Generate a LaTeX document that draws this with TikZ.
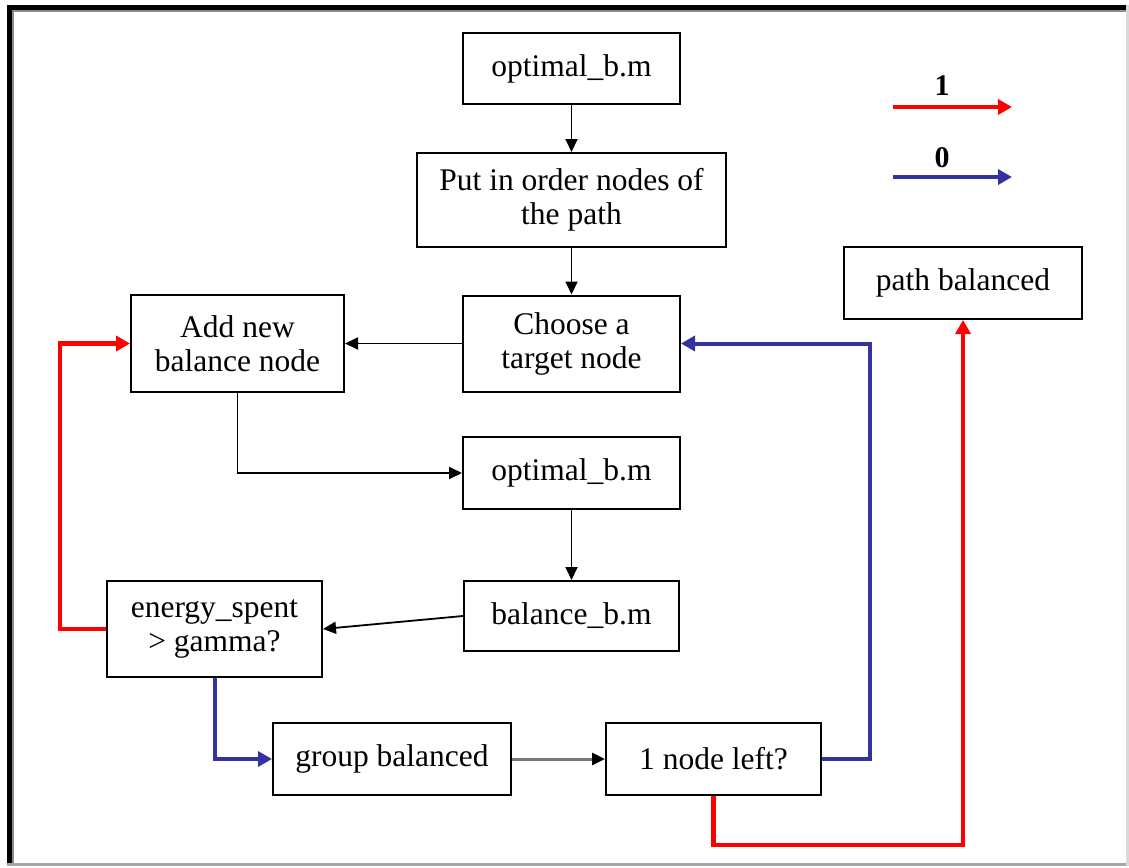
\documentclass[tikz,border=0pt]{standalone}
\usepackage{fontspec}
\setmainfont{Liberation Serif}
\usetikzlibrary{arrows.meta}
\definecolor{yesred}{RGB}{255,0,0}
\definecolor{noblue}{RGB}{51,51,160}
\definecolor{flowgray}{RGB}{120,120,120}
\begin{document}
\begin{tikzpicture}[x=1pt,y=-1pt,
  box/.style={draw=black,line width=2pt,fill=white,inner sep=0pt,align=center,
    font=\fontsize{31.5}{34}\selectfont},
  tip/.style={-{Triangle[length=13pt,width=12pt]}},
  plain/.style={tip,draw=black,line width=1.8pt},
  greyflow/.style={draw=flowgray,line width=3pt,-{Triangle[length=13pt,width=12pt,fill=black,color=black]}},
  yes/.style={draw=yesred,line width=4.5pt,-{Triangle[length=14pt,width=15pt]},line join=miter},
  no/.style={draw=noblue,line width=4pt,-{Triangle[length=14pt,width=15pt]},line join=miter},
  legendlabel/.style={font=\fontsize{30}{34}\selectfont\bfseries,inner sep=2pt}]
\useasboundingbox (0,0) rectangle (1129,867);
\fill[white] (0,0) rectangle (1129,867);
% window frame
\fill[black] (7,5) rectangle (12,864);
\fill[black] (7,5) rectangle (1127,10);
\fill[black!45] (12,10) rectangle (14,864);
\fill[black!45] (12,10) rectangle (1127,12);
\fill[black!35] (7,863) rectangle (1129,866);
\fill[black!15] (1126,5) rectangle (1129,866);

% process boxes
\node[box,minimum width=217pt,minimum height=71pt] (opt1) at (571.5,68.5) {optimal\_b.m};
\node[box,minimum width=309pt,minimum height=94pt] (order) at (571.5,200) {Put in order nodes of\\the path};
\node[box,minimum width=217pt,minimum height=96pt] (choose) at (571.5,343.5) {Choose a\\target node};
\node[box,minimum width=213pt,minimum height=97pt] (add) at (237.5,343.5) {Add new\\balance node};
\node[box,minimum width=238pt,minimum height=72pt] (pathb) at (963,283) {path balanced};
\node[box,minimum width=217pt,minimum height=72pt] (opt2) at (571.5,473) {optimal\_b.m};
\node[box,minimum width=215pt,minimum height=70pt] (bal) at (571.5,616) {balance\_b.m};
\node[box,minimum width=215pt,minimum height=96pt] (energy) at (214.5,629) {energy\_spent\\> gamma?};
\node[box,minimum width=238pt,minimum height=72pt] (group) at (392,759) {group balanced};
\node[box,minimum width=215pt,minimum height=72pt] (left) at (713.5,759) {1 node left?};

% legend
\coordinate (l1a) at (893,107);
\coordinate (l1b) at (1012,107);
\coordinate (l0a) at (893,177);
\coordinate (l0b) at (1012,177);
\draw[yes] (l1a) -- (l1b);
\draw[no] (l0a) -- (l0b);
\node[legendlabel,anchor=base] (lab1) at (942,95) {1};
\node[legendlabel,anchor=base] (lab0) at (942,167) {0};

% main flow
\draw[plain] (opt1.south) -- (order.north);
\draw[plain] (order.south) -- (choose.north);
\draw[plain] (choose.west) -- (add.east);
\draw[plain] (add.south) |- (opt2.west);
\draw[plain] (opt2.south) -- (bal.north);
\draw[plain] (bal.west) -- (energy.east);
\draw[greyflow] (group.east) -- (left.west);

% decision branches
\draw[yes] (energy.west) -- ++(-46,0) |- (add.west);
\draw[no] (energy.south) |- (group.west);
\draw[no] (left.east) -- ++(48,0) |- (choose.east);
\draw[yes] (left.south) -- ++(0,49) -| (pathb.south);
\end{tikzpicture}
\end{document}
